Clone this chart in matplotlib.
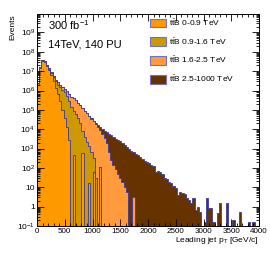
import numpy as np
import matplotlib
matplotlib.use("Agg")
import matplotlib.pyplot as plt
from matplotlib.patches import Patch
from matplotlib.ticker import FixedLocator, MultipleLocator, LogLocator, NullFormatter

plt.rcParams["font.family"] = ["Liberation Sans", "DejaVu Sans"]
plt.rcParams["mathtext.fontset"] = "custom"
plt.rcParams["mathtext.rm"] = "Liberation Sans"
plt.rcParams["mathtext.it"] = "Liberation Sans:italic"

# 40 GeV bins, 0-4000 GeV
edges = np.arange(0, 4001, 40)

labels = [r"t$\mathregular{\bar{t}}$B 0-0.9 TeV",
          r"t$\mathregular{\bar{t}}$B 0.9-1.6 TeV",
          r"t$\mathregular{\bar{t}}$B 1.6-2.5 TeV",
          r"t$\mathregular{\bar{t}}$B 2.5-1000 TeV"]
colors = ["#ff9900", "#cc9900", "#ff9b3c", "#663300"]

# events per bin (empty bins are 0)
ttb_0_09 = [2.0e6, 1.5e7, 3.5e7, 3.0e7, 1.9e7, 1.15e7, 6.3e6, 3.2e6, 1.4e6, 6.3e5,
            2.8e5, 1.0e5, 4.0e4, 1.3e4, 2.7e3, 0, 460, 0, 0, 0,
            580, 0, 0, 16, 0, 60, 0, 0, 110] + [0] * 71

ttb_09_16 = [3.2e5, 1.0e6, 1.6e6, 2.0e6, 2.2e6, 2.2e6, 2.0e6, 1.8e6, 1.6e6, 1.4e6,
             1.2e6, 9.5e5, 7.6e5, 5.2e5, 2.8e5, 1.4e5, 8.9e4, 6.3e4, 4.0e4, 2.0e4,
             7.9e3, 4.0e3, 2.2e3, 1.3e3, 630, 250, 32] + [0] * 73

ttb_16_25 = [3.2e4, 1.0e5, 2.0e5, 3.2e5, 4.0e5, 5.0e5, 5.6e5, 6.0e5, 6.0e5, 5.9e5,
             5.6e5, 5.0e5, 4.5e5, 4.2e5, 4.0e5, 3.5e5, 3.1e5, 2.5e5, 1.9e5, 1.5e5,
             1.15e5, 8.5e4, 6.3e4, 4.7e4, 3.5e4, 2.5e4, 1.9e4, 1.3e4, 8.9e3, 5.6e3,
             3.5e3, 2.0e3, 630, 250, 140, 89, 50, 29, 18, 10,
             5.9, 0, 0, 3.2] + [0] * 56

ttb_25_1000 = [0] * 20 + [
    16, 40, 100, 250, 500, 1000, 1600, 2700, 3700, 4400,
    4800, 4900, 5100, 4500, 3800, 3200, 2700, 2300, 1900, 1500,
    1200, 980, 790, 660, 520, 440, 350, 300, 230, 210,
    170, 140, 130, 63, 71, 60, 50, 32, 28, 19,
    16, 11, 8.9, 4.0, 5.6, 5.0, 4.5, 2.8, 2.2, 1.6,
    2.7, 0.66, 1.0, 0.5, 0, 0.17, 2.7, 0.85, 0.85, 0.17,
    0, 0.47, 1.5, 0, 0, 1.5, 0, 0, 0.2, 0,
    0, 0.55, 0, 0, 0, 0.17, 0, 0.17, 0, 0]

layers = np.array([ttb_0_09, ttb_09_16, ttb_16_25, ttb_25_1000], dtype=float)
stack = np.cumsum(layers, axis=0)

fig = plt.figure(figsize=(2.70, 2.59), dpi=100)
ax = fig.add_axes([37 / 270, 1 - 226 / 259, 222 / 270, 212 / 259])

floor = 1e-3
for i in range(3, -1, -1):
    vals = np.where(stack[i] > 0, stack[i], floor)
    ax.stairs(vals, edges, baseline=floor, fill=True, facecolor=colors[i],
              edgecolor="#3a3aa0", linewidth=0.6)

ax.set_yscale("log")
ax.set_xlim(0, 4000)
ax.set_ylim(0.1, 9e9)

ax.xaxis.set_major_locator(MultipleLocator(500))
ax.xaxis.set_minor_locator(MultipleLocator(100))
decades = [10.0 ** n for n in range(-1, 10)]
ax.yaxis.set_major_locator(FixedLocator(decades))
ax.yaxis.set_minor_locator(LogLocator(base=10, subs=np.arange(2, 10), numticks=20))
ax.yaxis.set_minor_formatter(NullFormatter())


def ylab(v):
    n = int(round(np.log10(v)))
    if n == 0:
        return "1"
    if n == 1:
        return "10"
    return r"$\mathregular{10^{%d}}$" % n


ax.set_yticklabels([ylab(v) for v in decades])
ax.tick_params(which="both", direction="in", top=True, right=True, labelsize=6,
               width=0.6)
ax.tick_params(axis="x", labelsize=5.8, pad=1.5)
ax.tick_params(which="major", length=5)
ax.tick_params(which="minor", length=2.5)
ax.tick_params(axis="y", pad=1.5)
for s in ax.spines.values():
    s.set_linewidth(0.7)

ax.text(0.05, 0.925, r"300 fb$^{\mathregular{-1}}$", transform=ax.transAxes,
        fontsize=8, va="baseline")
ax.text(0.05, 0.844, "14TeV, 140 PU", transform=ax.transAxes,
        fontsize=8, va="baseline")

handles = [Patch(facecolor=c, edgecolor="#7070cc", linewidth=0.8) for c in colors]
ax.legend(handles, labels, loc="upper left", bbox_to_anchor=(0.51, 0.985),
          frameon=False, fontsize=6, handlelength=1.9, handleheight=1.2,
          labelspacing=1.0, handletextpad=0.4, borderpad=0, borderaxespad=0)

fig.text(259 / 270, 1 - 241 / 259, r"Leading jet p$_{\mathregular{T}}$ [GeV/c]",
         ha="right", va="center", fontsize=6)
fig.text(13 / 270, 1 - 14 / 259, "Events", rotation=90, ha="center", va="top",
         fontsize=6)

fig.savefig("out.png", dpi=100)
